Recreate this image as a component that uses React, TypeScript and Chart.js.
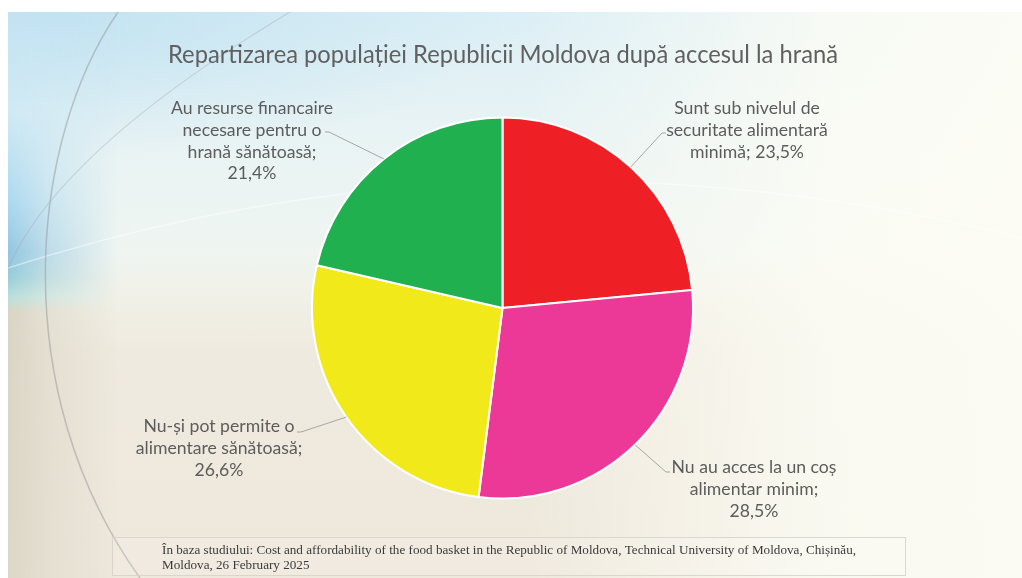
import React, { useEffect, useRef } from "react";
import { Chart, registerables } from "chart.js";

Chart.register(...registerables);

// ---------- data ----------
const titleText = "Repartizarea populației Republicii Moldova după accesul la hrană";
const categories = [
  "Sunt sub nivelul de securitate alimentară minimă",
  "Nu au acces la un coș alimentar minim",
  "Nu-și pot permite o alimentare sănătoasă",
  "Au resurse financaire necesare pentru o hrană sănătoasă",
];
const values = [23.5, 28.5, 26.6, 21.4];
const sliceColors = ["#EE1F25", "#EC3997", "#F1E919", "#21B04F"];
const pct = (v: number) => v.toFixed(1).replace(".", ",") + "%";
const labelLines: string[][] = [
  ["Sunt sub nivelul de", "securitate alimentară", "minimă; " + pct(values[0])],
  ["Nu au acces la un coș", "alimentar minim;", pct(values[1])],
  ["Nu-și pot permite o", "alimentare sănătoasă;", pct(values[2])],
  ["Au resurse financaire", "necesare pentru o", "hrană sănătoasă;", pct(values[3])],
];
const footnoteLines = [
  "În baza studiului: Cost and affordability of the food basket in the Republic of Moldova, Technical University of Moldova, Chișinău,",
  "Moldova, 26 February 2025",
];

// ---------- layout (positions only) ----------
const labelLayout = [
  { cx: 747, firstBaseline: 114, lead: [666, 133] },
  { cx: 754, firstBaseline: 473, lead: [670, 472] },
  { cx: 219, firstBaseline: 432, lead: [297, 432] },
  { cx: 252, firstBaseline: 114, lead: [325, 132] },
];
const LINE_H = 21.8;

function drawScaled(ctx: CanvasRenderingContext2D, text: string, x: number, y: number, sx: number, align: CanvasTextAlign) {
  ctx.save();
  ctx.translate(x, y);
  ctx.scale(sx, 1);
  ctx.textAlign = align;
  ctx.fillText(text, 0, 0);
  ctx.restore();
}

const textPlugin = {
  id: "textPlugin",
  afterDraw(chart: any) {
    const ctx: CanvasRenderingContext2D = chart.ctx;
    ctx.save();
    ctx.textBaseline = "alphabetic";

    // title
    ctx.fillStyle = "#606060";
    ctx.font = "25px Lato";
    const tw = ctx.measureText(titleText).width;
    drawScaled(ctx, titleText, 503, 63, 670 / tw, "center");

    // labels + leader lines
    ctx.font = "17px Lato";
    const sx = 162 / ctx.measureText(labelLines[3][0]).width;
    const meta = chart.getDatasetMeta(0);
    meta.data.forEach((arc: any, i: number) => {
      const p = arc.getProps(["x", "y", "startAngle", "endAngle", "outerRadius"], true);
      const mid = (p.startAngle + p.endAngle) / 2;
      const ex = p.x + Math.cos(mid) * p.outerRadius;
      const ey = p.y + Math.sin(mid) * p.outerRadius;
      const L = labelLayout[i];
      ctx.strokeStyle = "#A6A6A6";
      ctx.lineWidth = 1;
      ctx.beginPath();
      const dir = ex > L.lead[0] ? 1 : -1;
      ctx.moveTo(L.lead[0], L.lead[1]);
      ctx.lineTo(L.lead[0] + dir * 4, L.lead[1]);
      ctx.lineTo(ex, ey);
      ctx.stroke();
      ctx.fillStyle = "#5C5C5C";
      labelLines[i].forEach((line, k) => {
        drawScaled(ctx, line, L.cx, L.firstBaseline + k * LINE_H, sx, "center");
      });
    });

    // footnote box
    ctx.strokeStyle = "rgba(215,212,204,0.9)";
    ctx.fillStyle = "rgba(255,255,255,0.12)";
    ctx.lineWidth = 1;
    ctx.fillRect(112.5, 537.5, 793, 38);
    ctx.strokeRect(112.5, 537.5, 793, 38);
    ctx.fillStyle = "#3A3A3A";
    ctx.font = "13px 'Liberation Serif'";
    const fw = ctx.measureText(footnoteLines[0]).width;
    const fsx = 694 / fw;
    drawScaled(ctx, footnoteLines[0], 162, 554, fsx, "left");
    drawScaled(ctx, footnoteLines[1], 162, 569, fsx, "left");
    ctx.restore();
  },
};

export default function App() {
  const ref = useRef<HTMLCanvasElement | null>(null);
  useEffect(() => {
    if (!ref.current) return;
    const chart = new Chart(ref.current, {
      type: "pie",
      data: {
        labels: categories,
        datasets: [
          {
            data: values,
            backgroundColor: sliceColors,
            borderColor: "#FFFFFF",
            borderWidth: 2,
            hoverBorderWidth: 2,
          },
        ],
      },
      options: {
        responsive: false,
        animation: false,
        devicePixelRatio: 1,
        layout: { padding: { top: 116, bottom: 78, left: 311, right: 328 } },
        plugins: { legend: { display: false }, tooltip: { enabled: false }, title: { display: false } },
      },
      plugins: [textPlugin],
    });
    return () => chart.destroy();
  }, []);

  return (
    <div style={{ position: "absolute", left: 0, top: 0, width: 1022, height: 578, background: "#FFFFFF", overflow: "hidden" }}>
      <div
        style={{
          position: "absolute",
          left: 8,
          top: 12,
          width: 1014,
          height: 566,
          overflow: "hidden",
          background:
            "linear-gradient(180deg, #DCEFF6 0px, #E8F3F4 120px, #EFF5F1 240px, #F1F0E6 290px, #EFEADF 340px, #EEE8DC 566px)",
        }}
      >
        <div
          style={{
            position: "absolute",
            left: 0,
            top: 0,
            width: 1014,
            height: 566,
            background:
              "linear-gradient(90deg, rgba(250,250,242,0) 0px, rgba(250,250,242,0) 520px, rgba(252,252,244,0.85) 820px, rgba(252,252,244,0.95) 1014px)",
          }}
        />
        <div
          style={{
            position: "absolute",
            left: 0,
            top: 0,
            width: 700,
            height: 200,
            background: "radial-gradient(ellipse 520px 150px at 0px 0px, rgba(180,220,240,0.7), rgba(180,220,240,0) 100%)",
          }}
        />
        <div
          style={{
            position: "absolute",
            left: 0,
            top: 0,
            width: 110,
            height: 566,
            background:
              "linear-gradient(180deg, #C3E2F1 0px, #CFE9F4 100px, #A8D6EE 190px, #8CC3E0 240px, #93CAD9 265px, #B5DDD9 285px, #D8D3C2 300px, #DBD6C6 566px)",
            WebkitMaskImage: "linear-gradient(90deg, rgba(0,0,0,0.95) 0px, rgba(0,0,0,0.5) 40px, rgba(0,0,0,0) 110px)",
            maskImage: "linear-gradient(90deg, rgba(0,0,0,0.95) 0px, rgba(0,0,0,0.5) 40px, rgba(0,0,0,0) 110px)",
          } as any}
        />
        <svg width={1014} height={566} viewBox="8 12 1014 566" style={{ position: "absolute", left: 0, top: 0 }}>
          <path d="M 8 268 Q 500 110 1022 238" fill="none" stroke="rgba(255,255,255,0.45)" strokeWidth={1.5} />
          <path d="M 118 12 C 30 140, 5 390, 140 578" fill="none" stroke="rgba(150,150,150,0.5)" strokeWidth={1.5} />
          <path d="M 290 12 Q 60 150 8 268" fill="none" stroke="rgba(170,170,170,0.4)" strokeWidth={1.2} />
        </svg>
      </div>
      <canvas ref={ref} width={1022} height={578} style={{ position: "absolute", left: 0, top: 0, width: 1022, height: 578 }} />
    </div>
  );
}
